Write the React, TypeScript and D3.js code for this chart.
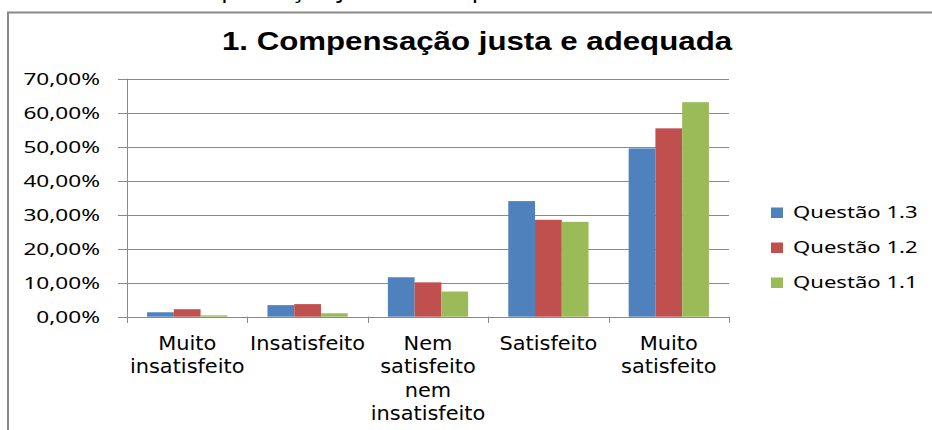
import * as d3 from 'd3'

// chart data
const categories = ['Muito\ninsatisfeito', 'Insatisfeito', 'Nem\nsatisfeito\nnem\ninsatisfeito', 'Satisfeito', 'Muito\nsatisfeito']
const seriesNames = ['Questão 1.3', 'Questão 1.2', 'Questão 1.1']
const q13 = [1.3, 3.4, 11.6, 34.0, 49.5]
const q12 = [2.2, 3.7, 10.1, 28.5, 55.4]
const q11 = [0.4, 1.0, 7.4, 27.9, 63.1]
const yTicks = [0, 10, 20, 30, 40, 50, 60, 70]
const colors = ['#4F81BD', '#C0504D', '#9BBB59']

const width = 932
const height = 430
const axisColor = '#8a8a8a'
const labelFont = "'Noto Sans', 'Open Sans', sans-serif"

const fmt = (v: number) => v.toFixed(2).replace('.', ',') + '%'

const App = () => {
  const series = [q13, q12, q11]

  const x = d3.scaleBand<number>()
    .domain(categories.map((_, i) => i))
    .range([127, 729])
    .paddingInner(0)

  const xInner = d3.scaleBand<number>()
    .domain(seriesNames.map((_, i) => i))
    .range([0, x.bandwidth()])
    .paddingInner(0)
    .paddingOuter(0.75)

  const y = d3.scaleLinear()
    .domain([0, 70])
    .range([316.7, 78.7])

  const catEdges = categories.map((_, i) => x(i) as number).concat([x.range()[1]])

  return (
    <svg width={width} height={height} style={{ position: 'absolute', left: 0, top: 0, background: '#fff' }}>
      {/* caption above the frame, cut off by the page edge like in the source */}
      <text x={168} y={-3} fontSize={24} fontFamily={labelFont} textLength={368} lengthAdjust="spacingAndGlyphs" fill="#000">
        Compensação justa e adequada
      </text>

      {/* chart frame (left and top only visible) */}
      <path d={`M8,${height} V12.5 H${width}`} fill="none" stroke={axisColor} strokeWidth={2} />

      <text
        transform={`translate(477,50) scale(1.22,1)`}
        textAnchor="middle"
        fontSize={25.6}
        fontWeight="bold"
        fontFamily="'Liberation Sans', Arial, sans-serif"
        fill="#000"
      >
        1. Compensação justa e adequada
      </text>

      {/* gridlines + y labels */}
      {yTicks.map((t) => (
        <g key={t}>
          <line x1={118} x2={729} y1={Math.round(y(t)) + 0.5} y2={Math.round(y(t)) + 0.5} stroke={axisColor} strokeWidth={1} />
          <text
            transform={`translate(100,${y(t) + 6}) scale(1.38,1)`}
            textAnchor="end"
            fontSize={16.4}
            fontFamily={labelFont}
            fill="#000"
          >
            {fmt(t)}
          </text>
        </g>
      ))}

      {/* y axis line */}
      <line x1={127.5} x2={127.5} y1={y(70)} y2={323} stroke={axisColor} strokeWidth={1} />

      {/* category ticks */}
      {catEdges.map((e, i) => (
        <line key={i} x1={Math.round(e) + 0.5} x2={Math.round(e) + 0.5} y1={y(0)} y2={323} stroke={axisColor} strokeWidth={1} />
      ))}

      {/* bars */}
      {series.map((vals, si) => (
        <g key={si} fill={colors[si]}>
          {vals.map((v, ci) => (
            <rect
              key={ci}
              x={(x(ci) as number) + (xInner(si) as number)}
              y={y(v)}
              width={xInner.bandwidth()}
              height={y(0) - y(v)}
            />
          ))}
        </g>
      ))}

      {/* x labels */}
      {categories.map((c, ci) => (
        <text
          key={ci}
          textAnchor="middle"
          fontSize={19}
          fontFamily="'DejaVu Sans', sans-serif"
          fill="#000"
          transform={`translate(${(x(ci) as number) + x.bandwidth() / 2},350) scale(1.1,1)`}
        >
          {c.split('\n').map((line, li) => (
            <tspan key={li} x={0} y={li * 23.5}>{line}</tspan>
          ))}
        </text>
      ))}

      {/* legend */}
      {seriesNames.map((name, si) => (
        <g key={si} transform={`translate(771,${218 + si * 35})`}>
          <rect x={0} y={-10.5} width={12} height={10.5} fill={colors[si]} />
          <text transform="translate(22,0) scale(1.3,1)" fontSize={17} fontFamily={labelFont} fill="#000">
            {name}
          </text>
        </g>
      ))}
    </svg>
  )
}

export default App
